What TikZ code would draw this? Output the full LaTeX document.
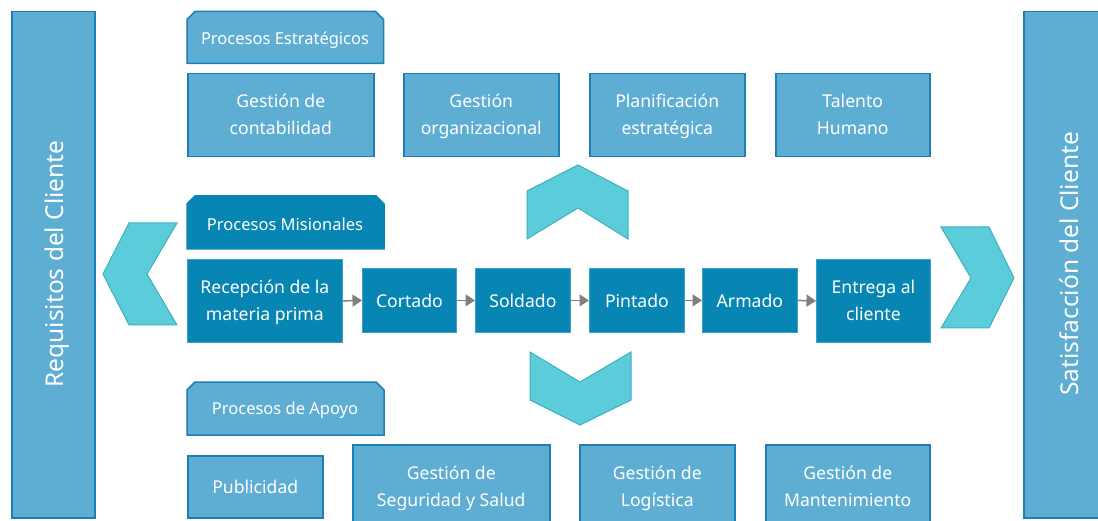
\documentclass[tikz,border=0pt]{standalone}
\usepackage{fontspec}
\setmainfont{Noto Sans}
\usetikzlibrary{arrows.meta}
\definecolor{lightfill}{RGB}{94,174,211}
\definecolor{lightdraw}{RGB}{28,128,178}
\definecolor{darkfill}{RGB}{8,134,179}
\definecolor{darkdraw}{RGB}{60,160,200}
\definecolor{chevfill}{RGB}{91,204,217}
\definecolor{chevdraw}{RGB}{62,176,190}
\definecolor{arrowgray}{RGB}{128,128,128}
\tikzset{
  btext/.style={text=white, align=center, inner sep=0pt, font=\fontsize{17.6}{27}\selectfont,
    execute at begin node=\strut, execute at end node=\strut},
  lbox/.style={draw=lightdraw, fill=lightfill, line width=1.5pt, anchor=north west, inner sep=0pt},
  dbox/.style={draw=darkdraw, fill=darkfill, line width=0.8pt, anchor=north west, inner sep=0pt},
  hdrtext/.style={text=white, inner sep=0pt, font=\fontsize{16.5}{20}\selectfont},
  side/.style={draw=lightdraw, fill=lightfill, line width=1.5pt,
    anchor=north west, inner sep=0pt},
  sidetext/.style={rotate=90, text=white, inner sep=0pt, font=\fontsize{24.5}{28}\selectfont},
  chev/.style={fill=chevfill, draw=chevdraw, line width=1pt, line join=miter},
  flow/.style={draw=arrowgray, line width=1.5pt, -{Triangle[length=9.5pt,width=12pt]}},
}
\newcommand{\hdrshape}[5]{% x1,y1,x2,y2,style
  \draw[#5, line width=1.5pt, line join=miter] (#1,#4) -- (#1,#2+8) -- (#1+8,#2) -- (#3-8,#2) -- (#3,#2+8) -- (#3,#4) -- cycle;}
\begin{document}
\begin{tikzpicture}[x=1pt,y=-1pt]
\clip (0,0) rectangle (1098,521);
\fill[white] (0,0) rectangle (1098,521);

% side bars
\node[side, minimum width=83pt, minimum height=506pt] (req) at (11,11) {};
\node[sidetext] (reqt) at (57,264) {Requisitos del Cliente};
\node[side, minimum width=90pt, minimum height=506pt] (sat) at (1023,11) {};
\node[sidetext] (satt) at (1069,264) {Satisfacción del Cliente};

% strategic
\hdrshape{187}{11.5}{383.5}{63.5}{draw=lightdraw, fill=lightfill}
\node[hdrtext] (hest) at (285,40) {Procesos Estratégicos};
\node[lbox, minimum width=186pt, minimum height=83pt] (e1) at (187,73) {};
\node[lbox, minimum width=155pt, minimum height=83pt] (e2) at (403,73) {};
\node[lbox, minimum width=155pt, minimum height=83pt] (e3) at (589,73) {};
\node[lbox, minimum width=154pt, minimum height=83pt] (e4) at (775,73) {};
\node[btext] (e1t) at ([yshift=-3pt]e1.center) {Gestión de\\contabilidad};
\node[btext] (e2t) at ([yshift=-3pt]e2.center) {Gestión\\organizacional};
\node[btext] (e3t) at ([yshift=-3pt]e3.center) {Planificación\\estratégica};
\node[btext] (e4t) at ([yshift=-3pt]e4.center) {Talento\\Humano};

% up chevron
\draw[chev] (527,191) -- (578,165) -- (628,191) -- (628,239) -- (578,208) -- (527,239) -- cycle;

% misionales
\hdrshape{187}{196}{384}{249}{draw=darkfill, fill=darkfill}
\node[hdrtext] (hmis) at (285,224.5) {Procesos Misionales};
\node[dbox, minimum width=155pt, minimum height=83pt] (m1) at (187,259) {};
\node[dbox, minimum width=94pt, minimum height=64pt] (m2) at (362,268) {};
\node[dbox, minimum width=95pt, minimum height=64pt] (m3) at (475,268) {};
\node[dbox, minimum width=95pt, minimum height=64pt] (m4) at (589,268) {};
\node[dbox, minimum width=95pt, minimum height=64pt] (m5) at (702,268) {};
\node[dbox, minimum width=114pt, minimum height=83pt] (m6) at (816,259) {};
\node[btext] (m1t) at ([yshift=-3pt]m1.center) {Recepción de la\\materia prima};
\node[btext] (m2t) at ([yshift=-1.5pt]m2.center) {Cortado};
\node[btext] (m3t) at ([yshift=-1.5pt]m3.center) {Soldado};
\node[btext] (m4t) at ([yshift=-1.5pt]m4.center) {Pintado};
\node[btext] (m5t) at ([yshift=-1.5pt]m5.center) {Armado};
\node[btext] (m6t) at ([yshift=-3pt]m6.center) {Entrega al\\cliente};
\draw[flow] (m1.east) -- (m2.west);
\draw[flow] (m2.east) -- (m3.west);
\draw[flow] (m3.east) -- (m4.west);
\draw[flow] (m4.east) -- (m5.west);
\draw[flow] (m5.east) -- (m6.west);

% left / right chevrons
\draw[chev] (129,223) -- (177,223) -- (147,274) -- (177,325) -- (129,325) -- (103,274) -- cycle;
\draw[chev] (941,227) -- (989,227) -- (1014,278) -- (989,328) -- (941,328) -- (971,278) -- cycle;

% down chevron
\draw[chev] (530,352) -- (580,382) -- (631,352) -- (631,400) -- (580,425) -- (530,400) -- cycle;

% apoyo
\hdrshape{187}{382}{384}{435}{draw=lightdraw, fill=lightfill}
\node[hdrtext] (hapo) at (285,410.5) {Procesos de Apoyo};
\node[lbox, minimum width=135pt, minimum height=62pt] (a1) at (187,455) {};
\node[lbox, minimum width=197pt, minimum height=86pt] (a2) at (352,444) {};
\node[lbox, minimum width=155pt, minimum height=86pt] (a3) at (579,444) {};
\node[lbox, minimum width=164pt, minimum height=86pt] (a4) at (765,444) {};
\node[btext] (a1t) at ([yshift=-1.5pt]a1.center) {Publicidad};
\node[btext] (a2t) at ([yshift=-3pt]a2.center) {Gestión de\\Seguridad y Salud};
\node[btext] (a3t) at ([yshift=-3pt]a3.center) {Gestión de\\Logística};
\node[btext] (a4t) at ([yshift=-3pt]a4.center) {Gestión de\\Mantenimiento};
\end{tikzpicture}
\end{document}
